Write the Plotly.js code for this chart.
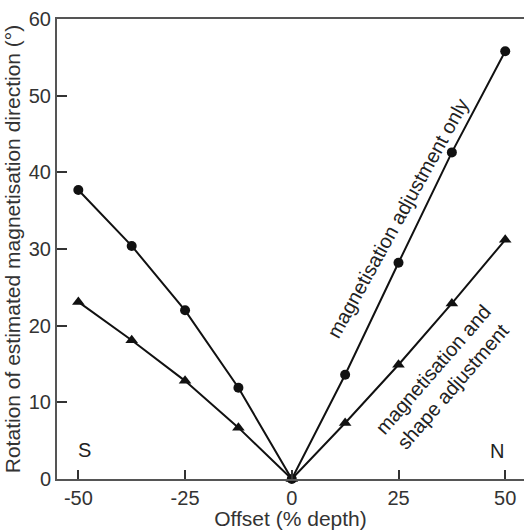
<!DOCTYPE html>
<html><head><meta charset="utf-8">
<script src="https://cdn.plot.ly/plotly-3.0.1.min.js"></script>
<style>html,body{margin:0;padding:0;background:#fff}</style>
</head><body>
<div id="chart" style="width:524px;height:530px"></div>
<script>
const offsets = [-50, -37.5, -25, -12.5, 0, 12.5, 25, 37.5, 50];
const magOnly = [37.7, 30.4, 22.0, 11.9, 0, 13.6, 28.2, 42.6, 55.8];
const magShape = [23.1, 18.1, 12.8, 6.7, 0, 7.3, 14.9, 22.9, 31.2];
const xTicks = [-50, -25, 0, 25, 50];
const xTickText = ['-50', '-25', '0', '25', '50'];
const yTicks = [0, 10, 20, 30, 40, 50, 60];

const fam = 'Liberation Sans, Arial, sans-serif';
const tickFont = {family: fam, size: 20, color: '#333'};
const titleFont = {family: fam, size: 21, color: '#333'};
const yTitleFont = {family: fam, size: 21, color: '#333'};
const annFont = {family: fam, size: 20, color: '#222'};
const traces = [
  {x: offsets, y: magOnly, mode: 'lines+markers', type: 'scatter',
   line: {color: '#111', width: 2}, marker: {symbol: 'circle', size: 10, color: '#111'},
   cliponaxis: false, hoverinfo: 'x+y'},
  {x: offsets, y: magShape, mode: 'lines+markers', type: 'scatter',
   line: {color: '#111', width: 2}, marker: {symbol: 'triangle-up', size: 11, color: '#111'},
   cliponaxis: false, hoverinfo: 'x+y'}
];
const layout = {
  width: 524, height: 530,
  margin: {l: 57, r: 0, t: 19, b: 51},
  showlegend: false,
  paper_bgcolor: '#fff', plot_bgcolor: '#fff',
  font: tickFont,
  xaxis: {range: [-55, 54.4], tickvals: xTicks, ticktext: xTickText, ticks: 'inside', ticklen: 9, tickwidth: 2,
    tickcolor: '#333', showline: true, linecolor: '#555', linewidth: 2, mirror: true,
    showgrid: false, zeroline: false, tickfont: tickFont, automargin: false,
    title: {text: 'Offset (% depth)', font: titleFont, standoff: 2}},
  yaxis: {range: [0, 60], tickvals: yTicks, ticks: 'inside', ticklen: 10, tickwidth: 2,
    tickcolor: '#333', showline: true, linecolor: '#555', linewidth: 2,
    showgrid: false, zeroline: false, tickfont: tickFont, ticklabelstandoff: 0, automargin: false,
    title: {text: 'Rotation of estimated magnetisation direction (°)', font: yTitleFont, standoff: 2}},
  annotations: [
    {x: 24.9, y: 34.0, text: 'magnetisation adjustment only', showarrow: false,
     textangle: -61, font: annFont},
    {x: 35.4, y: 13.2, text: 'magnetisation and<br>shape adjustment', showarrow: false,
     textangle: -49, font: annFont},
    {x: -48.6, y: 3.8, text: 'S', showarrow: false, font: annFont},
    {x: 48, y: 3.6, text: 'N', showarrow: false, font: annFont}
  ]
};
Plotly.newPlot('chart', traces, layout, {displayModeBar: false, staticPlot: true});
</script>
</body></html>
